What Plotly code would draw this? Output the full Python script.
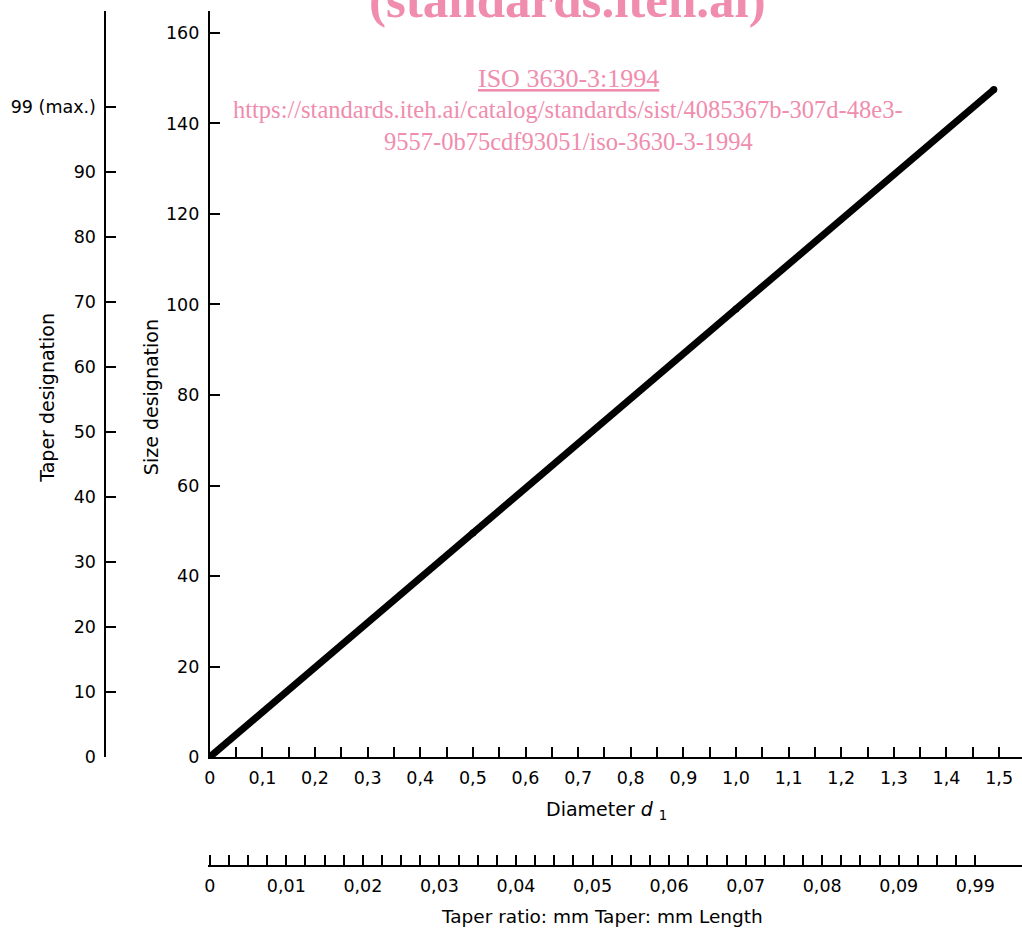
import plotly.graph_objects as go

# ---- data ----
diameter = [0, 0.5, 1.0, 1.49]
size_designation = [0, 49.5, 99, 147.5]

diam_tick_vals = [0, 0.1, 0.2, 0.3, 0.4, 0.5, 0.6, 0.7, 0.8, 0.9, 1.0, 1.1, 1.2, 1.3, 1.4, 1.5]
diam_tick_text = ["0", "0,1", "0,2", "0,3", "0,4", "0,5", "0,6", "0,7", "0,8", "0,9",
                  "1,0", "1,1", "1,2", "1,3", "1,4", "1,5"]
size_tick_vals = [0, 20, 40, 60, 80, 100, 120, 140, 160]
size_tick_text = ["0", "20", "40", "60", "80", "100", "120", "140", "160"]
taper_des_vals = [0, 10, 20, 30, 40, 50, 60, 70, 80, 90, 100]
taper_des_text = ["0", "10", "20", "30", "40", "50", "60", "70", "80", "90", "99 (max.)"]
ratio_tick_vals = [0, 0.01, 0.02, 0.03, 0.04, 0.05, 0.06, 0.07, 0.08, 0.09, 0.10]
ratio_tick_text = ["0", "0,01", "0,02", "0,03", "0,04", "0,05", "0,06", "0,07", "0,08", "0,09", "0,99"]

# ---- layout geometry (pixels) ----
W, H = 1022, 928
TOP, PAPER_BOTTOM = 11, 878
PH = PAPER_BOTTOM - TOP


def px_x(px):
    return px / W


def px_y(py):
    return (PAPER_BOTTOM - py) / PH


FONT = "DejaVu Sans"
PINK = "#F08DAE"
tick_font = dict(family=FONT, size=17.5, color="black")
title_font = dict(family=FONT, size=19, color="black")

diam_minor = [i * 0.05 for i in range(31)]
ratio_minor = [i * 0.0025 for i in range(41)]

fig = go.Figure()
fig.add_trace(go.Scatter(
    x=diameter, y=size_designation, mode="lines+markers",
    line=dict(color="black", width=7),
    marker=dict(color="black", size=7),
    showlegend=False, hoverinfo="skip",
))
# empty traces so the secondary scales get drawn
fig.add_trace(go.Scatter(x=[], y=[], xaxis="x2", yaxis="y3", showlegend=False, hoverinfo="skip"))
fig.add_trace(go.Scatter(x=[], y=[], xaxis="x", yaxis="y2", showlegend=False, hoverinfo="skip"))

axis_common = dict(showgrid=False, zeroline=False, showline=True, linecolor="black",
                   linewidth=2, ticks="inside", ticklen=10, tickwidth=2,
                   tickcolor="black", tickfont=tick_font, tickmode="array")
minor_common = dict(tickmode="array", ticks="inside", ticklen=10, tickwidth=2,
                    tickcolor="black")

ratio_axis_y = px_y(865)

fig.update_layout(
    width=W, height=H,
    margin=dict(l=0, r=0, t=TOP, b=H - PAPER_BOTTOM, pad=0),
    paper_bgcolor="white", plot_bgcolor="rgba(0,0,0,0)",
    font=dict(family=FONT, size=17, color="black"),
    xaxis=dict(domain=[px_x(205), 1], range=[0, 1.5435],
               tickvals=diam_tick_vals, ticktext=diam_tick_text,
               minor=dict(tickvals=diam_minor, **minor_common),
               ticklabelstandoff=4,
               anchor="y", **axis_common),
    yaxis=dict(domain=[px_y(757), 1], range=[0, 164.86],
               tickvals=size_tick_vals, ticktext=size_tick_text,
               ticklabelstandoff=5,
               anchor="x", **axis_common),
    xaxis2=dict(domain=[px_x(203), 1], anchor="y3", side="bottom",
                range=[-0.00026, 0.1061],
                tickvals=ratio_tick_vals, ticktext=ratio_tick_text,
                minor=dict(tickvals=ratio_minor, **minor_common),
                ticklabelstandoff=4,
                **axis_common),
    yaxis3=dict(domain=[ratio_axis_y, ratio_axis_y + 0.002], anchor="x2",
                visible=False, range=[0, 1]),
    yaxis2=dict(overlaying="y", anchor="free", position=px_x(100), side="left",
                range=[0, 114.77],
                tickvals=taper_des_vals, ticktext=taper_des_text,
                ticklabelstandoff=5,
                **axis_common),
)

ann = []
ann.append(dict(text="Size designation", x=px_x(146), y=px_y(397), textangle=-90,
                font=title_font))
ann.append(dict(text="Taper designation", x=px_x(41), y=px_y(398), textangle=-90,
                font=title_font))
ann.append(dict(text="Diameter <i>d</i> <sub>1</sub>", x=px_x(604), y=px_y(810),
                font=title_font))
ann.append(dict(text="Taper ratio: mm Taper: mm Length", x=px_x(600), y=px_y(916),
                font=dict(family=FONT, size=18.5, color="black")))
# watermark
ann.append(dict(text="<b>(standards.iteh.ai)</b>", x=px_x(565), y=px_y(0),
                font=dict(family="Liberation Serif", size=51, color=PINK)))
ann.append(dict(text="<u>ISO 3630-3:1994</u>", x=px_x(566), y=px_y(78),
                font=dict(family="Liberation Serif", size=26, color=PINK)))
ann.append(dict(text="https://standards.iteh.ai/catalog/standards/sist/4085367b-307d-48e3-",
                x=px_x(565), y=px_y(110),
                font=dict(family="Liberation Serif", size=24.5, color=PINK)))
ann.append(dict(text="9557-0b75cdf93051/iso-3630-3-1994", x=px_x(566), y=px_y(142),
                font=dict(family="Liberation Serif", size=24.5, color=PINK)))
for a in ann:
    a.update(xref="paper", yref="paper", xanchor="center", yanchor="middle",
             showarrow=False)
fig.update_layout(annotations=ann)

fig.write_html("out.html", config={"displayModeBar": False},
               post_script="document.body.style.margin='0';")
